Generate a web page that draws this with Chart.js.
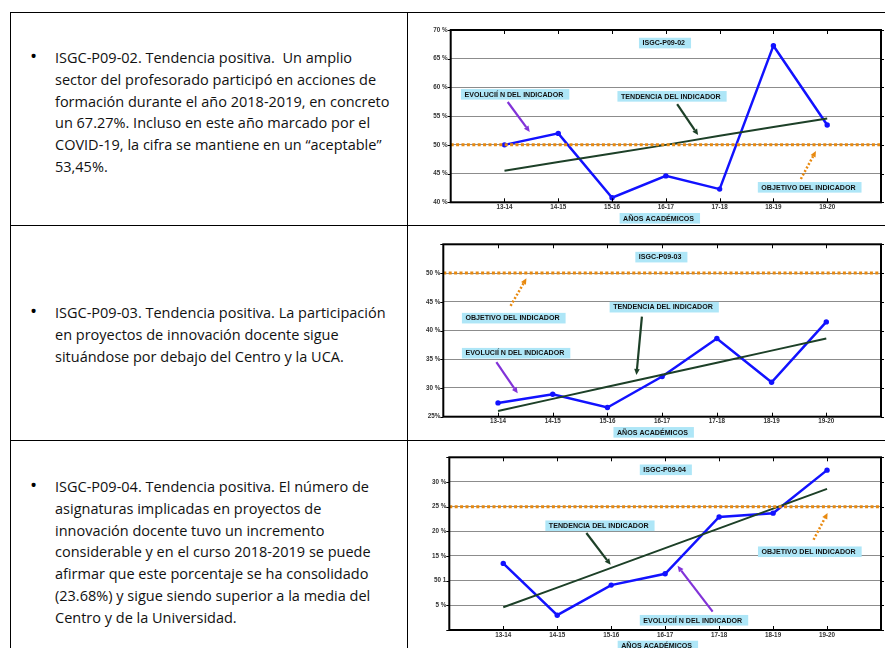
<!DOCTYPE html>
<html lang="es">
<head>
<meta charset="utf-8">
<title>ISGC-P09</title>
<script src="https://cdn.jsdelivr.net/npm/chart.js@4.4.1/dist/chart.umd.min.js"></script>
<style>
  html, body { margin: 0; padding: 0; background: #fff; }
  body { width: 885px; height: 648px; position: relative; overflow: hidden; font-family: "Open Sans", sans-serif; }
  .rule { position: absolute; background: #000; }
  .bullet { position: absolute; left: 30px; font-size: 19px; line-height: 21.8px; color: #000; }
  .cell-text { position: absolute; left: 55px; font-size: 14.5px; line-height: 21.8px; color: #111; white-space: nowrap; }
  canvas { position: absolute; left: 408px; }
</style>
</head>
<body>
<!-- table rules -->
<div class="rule" style="left:10px;top:12px;width:875px;height:1px"></div>
<div class="rule" style="left:10px;top:12px;width:1px;height:636px"></div>
<div class="rule" style="left:407px;top:12px;width:1px;height:636px"></div>
<div class="rule" style="left:10px;top:225px;width:875px;height:1px"></div>
<div class="rule" style="left:10px;top:440px;width:875px;height:1px"></div>

<div class="bullet" style="top:46px">•</div>
<div class="cell-text" style="top:47px">ISGC-P09-02. Tendencia positiva.&nbsp; Un amplio<br>sector del profesorado participó en acciones de<br>formación durante el año 2018-2019, en concreto<br>un 67.27%. Incluso en este año marcado por el<br>COVID-19, la cifra se mantiene en un “aceptable”<br>53,45%.</div>

<div class="bullet" style="top:301px">•</div>
<div class="cell-text" style="top:302px">ISGC-P09-03. Tendencia positiva. La participación<br>en proyectos de innovación docente sigue<br>situándose por debajo del Centro y la UCA.</div>

<div class="bullet" style="top:475px">•</div>
<div class="cell-text" style="top:476px">ISGC-P09-04. Tendencia positiva. El número de<br>asignaturas implicadas en proyectos de<br>innovación docente tuvo un incremento<br>considerable y en el curso 2018-2019 se puede<br>afirmar que este porcentaje se ha consolidado<br>(23.68%) y sigue siendo superior a la media del<br>Centro y de la Universidad.</div>

<canvas id="chart0902" width="477" height="214" style="top:12px"></canvas>
<canvas id="chart0903" width="477" height="214" style="top:226px"></canvas>
<canvas id="chart0904" width="477" height="208" style="top:440px"></canvas>

<script>
// Academic years on the x axis
const categories = ['13-14', '14-15', '15-16', '16-17', '17-18', '18-19', '19-20'];

// ISGC-P09-02
const p0902Values = [50.0, 52.0, 40.8, 44.6, 42.3, 67.27, 53.45];
const p0902Trend = [45.5, 47.0, 48.5, 50.0, 51.6, 53.1, 54.6];
const p0902Target = 50;
const p0902TickValues = [40, 45, 50, 55, 60, 65, 70];
const p0902TickLabels = ['40 %', '45 %', '50 %', '55 %', '60 %', '65 %', '70 %'];

// ISGC-P09-03
const p0903Values = [27.4, 28.9, 26.6, 32.0, 38.6, 31.0, 41.5];
const p0903Trend = [26.0, 28.1, 30.2, 32.3, 34.4, 36.5, 38.6];
const p0903Target = 50;
const p0903TickValues = [25, 30, 35, 40, 45, 50];
const p0903TickLabels = ['25%', '30 %', '35 %', '40 %', '45 %', '50 %'];

// ISGC-P09-04
const p0904Values = [13.5, 3.0, 9.1, 11.4, 22.9, 23.68, 32.4];
const p0904Trend = [4.6, 8.6, 12.6, 16.6, 20.6, 24.6, 28.6];
const p0904Target = 25;
const p0904TickValues = [5, 10, 15, 20, 25, 30];
const p0904TickLabels = ['5 %', '50 1', '15 %', '20 %', '25 %', '30 %'];

const BLUE = '#1212ff';
const GREEN = '#1d4028';
const ORANGE = '#e8890f';
const PURPLE = '#8233d8';
const NOTE_BG = '#aee6f7';
const FONT = '"Liberation Sans", Arial, sans-serif';

Chart.defaults.font.family = FONT;
Chart.defaults.color = '#333';

function drawArrow(ctx, x1, y1, x2, y2, color, width, dash) {
    const ang = Math.atan2(y2 - y1, x2 - x1);
    const head = 6, half = 2.8;
    const bx = x2 - head * Math.cos(ang), by = y2 - head * Math.sin(ang);
    ctx.strokeStyle = color;
    ctx.fillStyle = color;
    ctx.lineWidth = width;
    ctx.setLineDash(dash || []);
    ctx.beginPath();
    ctx.moveTo(x1, y1);
    ctx.lineTo(bx, by);
    ctx.stroke();
    ctx.setLineDash([]);
    ctx.beginPath();
    ctx.moveTo(x2, y2);
    ctx.lineTo(bx + half * Math.sin(ang), by - half * Math.cos(ang));
    ctx.lineTo(bx - half * Math.sin(ang), by + half * Math.cos(ang));
    ctx.closePath();
    ctx.fill();
}

// frame, tick marks, labels and arrows on top of the chart
function makeOverlay(notes, arrows) {
    return {
        id: 'overlay',
        afterDraw(chart) {
            const { ctx, chartArea: a, scales: { x, y } } = chart;
            ctx.save();
            ctx.strokeStyle = '#000';
            ctx.lineWidth = 1;
            ctx.beginPath();
            categories.forEach((c, i) => {
                const px = Math.round(x.getPixelForValue(i)) + 0.5;
                ctx.moveTo(px, a.bottom); ctx.lineTo(px, a.bottom - 4);
                ctx.moveTo(px, a.top); ctx.lineTo(px, a.top + 4);
            });
            y.ticks.forEach(t => {
                const py = Math.round(y.getPixelForValue(t.value)) + 0.5;
                ctx.moveTo(a.left - 3, py); ctx.lineTo(a.left, py);
                ctx.moveTo(a.right, py); ctx.lineTo(a.right + 3, py);
            });
            ctx.stroke();

            ctx.lineWidth = 2;
            ctx.strokeRect(a.left, a.top, a.width, a.height);

            arrows.forEach(ar => {
                drawArrow(ctx,
                    x.getPixelForValue(ar.from[0]), y.getPixelForValue(ar.from[1]),
                    x.getPixelForValue(ar.to[0]), y.getPixelForValue(ar.to[1]),
                    ar.color, ar.width, ar.dash);
            });

            ctx.font = 'bold 7.1px ' + FONT;
            ctx.textBaseline = 'middle';
            ctx.textAlign = 'left';
            notes.forEach(n => {
                const left = x.getPixelForValue(n.x);
                const top = y.getPixelForValue(n.y);
                const w = ctx.measureText(n.text).width + 9.5;
                ctx.fillStyle = NOTE_BG;
                ctx.fillRect(left, top, w, 10.6);
                ctx.fillStyle = '#111';
                ctx.fillText(n.text, left + 3.5, top + 5.6);
            });
            ctx.restore();
        }
    };
}

function makeChart(id, s) {
    const ctx = document.getElementById(id).getContext('2d');
    const yMin = s.yMin, yMax = s.yMax;
    return new Chart(ctx, {
        type: 'line',
        data: {
            datasets: [
                {
                    label: 'Objetivo',
                    data: [{ x: -1, y: s.target }, { x: 7, y: s.target }],
                    borderColor: ORANGE,
                    borderWidth: 3,
                    borderDash: [3, 2.4],
                    borderCapStyle: 'butt',
                    pointRadius: 0
                },
                {
                    label: 'Tendencia',
                    data: s.trend.map((v, i) => ({ x: i, y: v })),
                    borderColor: GREEN,
                    borderWidth: 2,
                    pointRadius: 0
                },
                {
                    label: 'Evolución',
                    data: s.values.map((v, i) => ({ x: i, y: v })),
                    borderColor: BLUE,
                    backgroundColor: BLUE,
                    borderWidth: 2.5,
                    pointRadius: 2.7,
                    pointBorderWidth: 0
                }
            ]
        },
        options: {
            responsive: false,
            animation: false,
            devicePixelRatio: 1,
            layout: { padding: { top: s.padTop, right: s.padRight, left: 0, bottom: 0 } },
            plugins: { legend: { display: false }, tooltip: { enabled: false } },
            scales: {
                x: {
                    type: 'linear',
                    min: -1,
                    max: 7,
                    afterFit: sc => { sc.height = s.xHeight; },
                    grid: { display: false, drawTicks: false },
                    border: { display: false },
                    ticks: {
                        stepSize: 1,
                        autoSkip: false,
                        maxRotation: 0,
                        padding: 1,
                        color: '#333',
                        font: { size: 6.3, weight: 'bold' },
                        callback: v => categories[v] ?? ''
                    }
                },
                y: {
                    min: yMin,
                    max: yMax,
                    afterFit: sc => { sc.width = s.yWidth; },
                    border: { display: false },
                    grid: {
                        drawTicks: false,
                        lineWidth: 1,
                        color: c => (c.tick && (c.tick.value === yMin || c.tick.value === yMax)) ? 'rgba(0,0,0,0)' : '#8c8c8c'
                    },
                    ticks: {
                        stepSize: 5,
                        padding: 3,
                        color: '#333',
                        font: { size: 6.3, weight: 'bold' },
                        callback: v => {
                            const k = s.tickValues.indexOf(v);
                            return k >= 0 ? s.tickLabels[k] : '';
                        }
                    }
                }
            }
        },
        plugins: [makeOverlay(s.notes, s.arrows)]
    });
}

makeChart('chart0902', {
    values: p0902Values, trend: p0902Trend, target: p0902Target,
    tickValues: p0902TickValues, tickLabels: p0902TickLabels,
    yMin: 40, yMax: 70,
    padTop: 18, padRight: 2, yWidth: 42.7, xHeight: 23.7,
    notes: [
        { text: 'ISGC-P09-02', x: 2.5, y: 68.65 },
        { text: 'EVOLUCIÍ N DEL INDICADOR', x: -0.81, y: 59.72 },
        { text: 'TENDENCIA DEL INDICADOR', x: 2.10, y: 59.37 },
        { text: 'OBJETIVO DEL INDICADOR', x: 4.71, y: 43.53 },
        { text: 'AÑOS ACADÉMICOS', x: 2.14, y: 38.14 }
    ],
    arrows: [
        { from: [0.06, 57.46], to: [0.47, 52.24], color: PURPLE, width: 2.2 },
        { from: [3.21, 57.1], to: [3.60, 51.7], color: GREEN, width: 2.2 },
        { from: [5.51, 44.06], to: [5.79, 48.93], color: ORANGE, width: 2.5, dash: [2, 2] }
    ]
});

makeChart('chart0903', {
    values: p0903Values, trend: p0903Trend, target: p0903Target,
    tickValues: p0903TickValues, tickLabels: p0903TickLabels,
    yMin: 25, yMax: 55,
    padTop: 18.3, padRight: 2, yWidth: 35.3, xHeight: 23.3,
    notes: [
        { text: 'ISGC-P09-03', x: 2.51, y: 53.69 },
        { text: 'OBJETIVO DEL INDICADOR', x: -0.66, y: 43.07 },
        { text: 'TENDENCIA DEL INDICADOR', x: 2.04, y: 44.98 },
        { text: 'EVOLUCIÍ N DEL INDICADOR', x: -0.66, y: 36.97 },
        { text: 'AÑOS ACADÉMICOS', x: 2.11, y: 23.2 }
    ],
    arrows: [
        { from: [0.23, 44.28], to: [0.52, 49.11], color: ORANGE, width: 2.5, dash: [2, 2] },
        { from: [2.63, 42.42], to: [2.53, 32.26], color: GREEN, width: 2.2 },
        { from: [-0.03, 34.48], to: [0.36, 29.08], color: PURPLE, width: 2.2 }
    ]
});

makeChart('chart0904', {
    values: p0904Values, trend: p0904Trend, target: p0904Target,
    tickValues: p0904TickValues, tickLabels: p0904TickLabels,
    yMin: 0, yMax: 35,
    padTop: 17.3, padRight: 1.7, yWidth: 41.3, xHeight: 18,
    notes: [
        { text: 'ISGC-P09-04', x: 2.53, y: 33.54 },
        { text: 'TENDENCIA DEL INDICADOR', x: 0.78, y: 22.2 },
        { text: 'OBJETIVO DEL INDICADOR', x: 4.72, y: 16.93 },
        { text: 'EVOLUCIÍ N DEL INDICADOR', x: 2.53, y: 3.05 },
        { text: 'AÑOS ACADÉMICOS', x: 2.12, y: -2.17 }
    ],
    arrows: [
        { from: [1.54, 19.65], to: [1.99, 13.21], color: GREEN, width: 2.2 },
        { from: [3.88, 3.72], to: [3.23, 13.0], color: PURPLE, width: 2.2 },
        { from: [5.75, 18.29], to: [6.01, 23.72], color: ORANGE, width: 2.5, dash: [2, 2] }
    ]
});
</script>
</body>
</html>
